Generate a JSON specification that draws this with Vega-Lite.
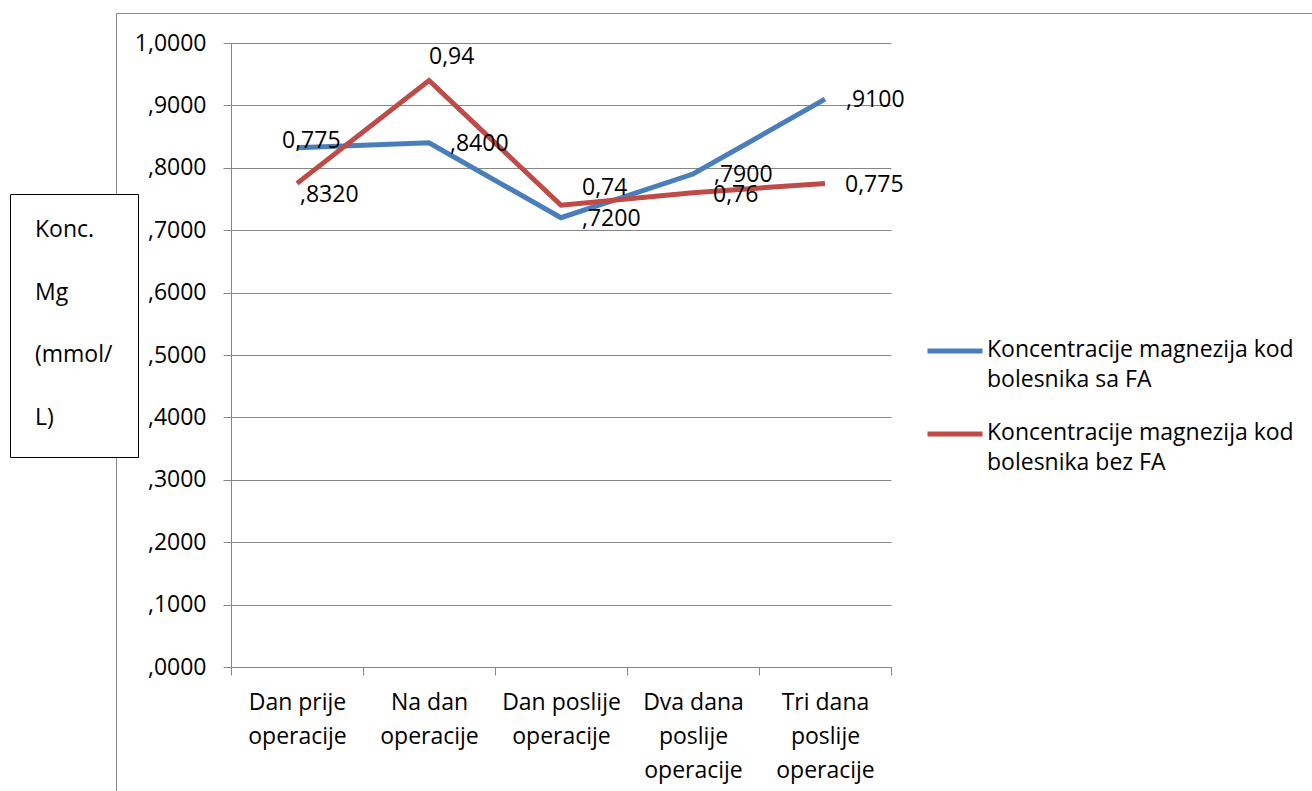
{
  "$schema": "https://vega.github.io/schema/vega-lite/v6.json",
  "width": 660,
  "height": 624,
  "autosize": {"type": "none"},
  "padding": {"left": 231, "top": 43, "right": 421, "bottom": 124},
  "background": "white",
  "config": {"view": {"stroke": null}, "font": "Open Sans", "text": {"font": "Open Sans"}},
  "data": {
    "values": [
      {"day": "Dan prije operacije", "series": "Koncentracije magnezija kod bolesnika sa FA", "value": 0.832, "label": ",8320"},
      {"day": "Na dan operacije", "series": "Koncentracije magnezija kod bolesnika sa FA", "value": 0.84, "label": ",8400"},
      {"day": "Dan poslije operacije", "series": "Koncentracije magnezija kod bolesnika sa FA", "value": 0.72, "label": ",7200"},
      {"day": "Dva dana poslije operacije", "series": "Koncentracije magnezija kod bolesnika sa FA", "value": 0.79, "label": ",7900"},
      {"day": "Tri dana poslije operacije", "series": "Koncentracije magnezija kod bolesnika sa FA", "value": 0.91, "label": ",9100"},
      {"day": "Dan prije operacije", "series": "Koncentracije magnezija kod bolesnika bez FA", "value": 0.775, "label": "0,775"},
      {"day": "Na dan operacije", "series": "Koncentracije magnezija kod bolesnika bez FA", "value": 0.94, "label": "0,94"},
      {"day": "Dan poslije operacije", "series": "Koncentracije magnezija kod bolesnika bez FA", "value": 0.74, "label": "0,74"},
      {"day": "Dva dana poslije operacije", "series": "Koncentracije magnezija kod bolesnika bez FA", "value": 0.76, "label": "0,76"},
      {"day": "Tri dana poslije operacije", "series": "Koncentracije magnezija kod bolesnika bez FA", "value": 0.775, "label": "0,775"}
    ]
  },
  "encoding": {
    "x": {
      "field": "day", "type": "nominal", "sort": null, "bandPosition": 0.5,
      "scale": {"type": "band", "paddingInner": 0, "paddingOuter": 0},
      "axis": {
        "title": null, "tickBand": "extent", "grid": false, "labelAngle": 0,
        "labelExpr": "datum.label == 'Dan prije operacije' ? ['Dan prije','operacije'] : datum.label == 'Na dan operacije' ? ['Na dan','operacije'] : datum.label == 'Dan poslije operacije' ? ['Dan poslije','operacije'] : datum.label == 'Dva dana poslije operacije' ? ['Dva dana','poslije','operacije'] : datum.label == 'Tri dana poslije operacije' ? ['Tri dana','poslije','operacije'] : ''",
        "labelFont": "Open Sans", "labelFontSize": 23, "labelLineHeight": 34, "labelBaseline": "top", "labelPadding": 16, "labelColor": "black", "labelLimit": 400,
        "tickSize": 8, "tickColor": "#868686", "domainColor": "#868686"
      }
    },
    "y": {
      "field": "value", "type": "quantitative",
      "scale": {"domain": [0, 1]},
      "axis": {
        "title": null, "values": [0, 0.1, 0.2, 0.3, 0.4, 0.5, 0.6, 0.7, 0.8, 0.9, 1],
        "labelExpr": "datum.value >= 1 ? '1,0000' : ',' + slice(format(datum.value, '.4f'), 2)",
        "labelFont": "Open Sans", "labelFontSize": 23, "labelColor": "black", "labelPadding": 17,
        "tickSize": 8, "tickColor": "#868686", "domainColor": "#868686", "grid": true, "gridColor": "#868686"
      }
    }
  },
  "layer": [
    {
      "mark": {"type": "line", "strokeWidth": 5},
      "encoding": {
        "color": {
          "field": "series", "type": "nominal",
          "scale": {"domain": ["Koncentracije magnezija kod bolesnika sa FA", "Koncentracije magnezija kod bolesnika bez FA"], "range": ["#4A7EBB", "#BE4B48"]},
          "legend": {
            "title": null, "orient": "none", "legendX": 694, "legendY": 278, "padding": 0,
            "symbolType": "stroke", "symbolSize": 3025, "symbolStrokeWidth": 5,
            "labelFont": "Open Sans", "labelFontSize": 23, "labelColor": "black", "labelLimit": 600, "labelOffset": 2,
            "labelBaseline": "top", "rowPadding": 12,
            "labelExpr": "datum.label == 'Koncentracije magnezija kod bolesnika sa FA' ? ['Koncentracije magnezija kod','bolesnika sa FA'] : ['Koncentracije magnezija kod','bolesnika bez FA']",
            "encode": {"labels": {"update": {"lineHeight": {"value": 30}, "dy": {"value": -12}}}}
          }
        }
      }
    },
    {
      "mark": {"type": "point", "opacity": 0},
      "encoding": {
        "shape": {
          "datum": "box",
          "legend": {
            "title": ["Konc.", "Mg", "(mmol/", "L)"], "orient": "none", "legendX": -221, "legendY": 151,
            "padding": 25, "strokeColor": "black", "fillColor": "white",
            "titleFont": "Open Sans", "titleFontSize": 23, "titleFontWeight": "normal", "titleColor": "black", "titleLineHeight": 62.5, "titleLimit": 500, "titlePadding": 0,
            "symbolOpacity": 0, "symbolSize": 1, "symbolStrokeWidth": 0, "labelExpr": "''", "labelFontSize": 2, "labelOffset": 75,
            "zindex": 2
          }
        },
        "size": {
          "datum": "frame", "type": "nominal",
          "legend": {
            "title": null, "orient": "none", "legendX": -115, "legendY": -30,
            "padding": 800, "strokeColor": "#898989",
            "symbolOpacity": 0, "labelExpr": "''", "labelFontSize": 1,
            "zindex": 0
          }
        }
      }
    },
    {
      "transform": [{"filter": "datum.series == 'Koncentracije magnezija kod bolesnika sa FA' && datum.day != 'Dan prije operacije'"}],
      "mark": {"type": "text", "align": "left", "baseline": "middle", "dx": 21, "dy": 1, "fontSize": 23, "color": "black"},
      "encoding": {"text": {"field": "label"}}
    },
    {
      "transform": [{"filter": "datum.series == 'Koncentracije magnezija kod bolesnika sa FA' && datum.day == 'Dan prije operacije'"}],
      "mark": {"type": "text", "align": "left", "baseline": "middle", "dx": 3, "dy": 47, "fontSize": 23, "color": "black"},
      "encoding": {"text": {"field": "label"}}
    },
    {
      "transform": [{"filter": "datum.series == 'Koncentracije magnezija kod bolesnika bez FA' && datum.day == 'Dan prije operacije'"}],
      "mark": {"type": "text", "align": "left", "baseline": "middle", "dx": -15, "dy": -42, "fontSize": 23, "color": "black"},
      "encoding": {"text": {"field": "label"}}
    },
    {
      "transform": [{"filter": "datum.series == 'Koncentracije magnezija kod bolesnika bez FA' && datum.day == 'Na dan operacije'"}],
      "mark": {"type": "text", "align": "left", "baseline": "middle", "dx": 0, "dy": -23, "fontSize": 23, "color": "black"},
      "encoding": {"text": {"field": "label"}}
    },
    {
      "transform": [{"filter": "datum.series == 'Koncentracije magnezija kod bolesnika bez FA' && datum.day == 'Dan poslije operacije'"}],
      "mark": {"type": "text", "align": "left", "baseline": "middle", "dx": 21, "dy": -17, "fontSize": 23, "color": "black"},
      "encoding": {"text": {"field": "label"}}
    },
    {
      "transform": [{"filter": "datum.series == 'Koncentracije magnezija kod bolesnika bez FA' && (datum.day == 'Dva dana poslije operacije' || datum.day == 'Tri dana poslije operacije')"}],
      "mark": {"type": "text", "align": "left", "baseline": "middle", "dx": 20, "dy": 2, "fontSize": 23, "color": "black"},
      "encoding": {"text": {"field": "label"}}
    }
  ]
}
